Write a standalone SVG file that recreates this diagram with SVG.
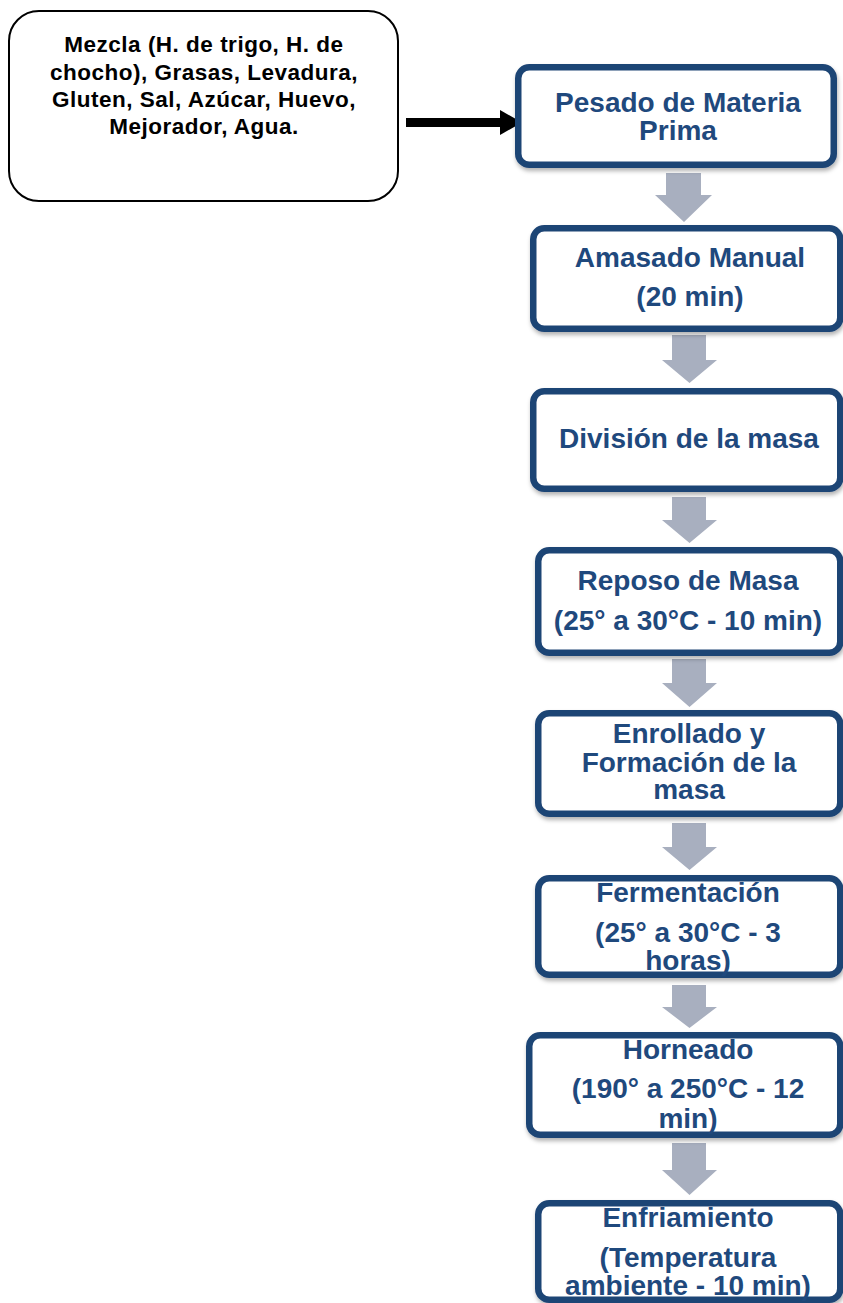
<svg xmlns="http://www.w3.org/2000/svg" width="843" height="1303" viewBox="0 0 843 1303">
<style>
.step{fill:#ffffff;stroke:#1F4575;stroke-width:6.5;filter:url(#sh)}
.st{font-family:"Liberation Sans",Arial,sans-serif;font-weight:bold;font-size:28px;fill:#1F497D;text-anchor:middle}
.in{font-family:"Liberation Sans",Arial,sans-serif;font-weight:bold;font-size:22.5px;fill:#000;text-anchor:middle;letter-spacing:0.5px}
.ga{fill:#A8AFBF}
</style>
<defs>
<filter id="sh" x="-10%" y="-10%" width="120%" height="130%">
<feDropShadow dx="1" dy="3" stdDeviation="2" flood-color="#000" flood-opacity="0.3"/>
</filter>
</defs>
<rect width="843" height="1303" fill="#fff"/>
<g id="input">
<rect x="9" y="11" width="389" height="190" rx="30" ry="30" fill="#fff" stroke="#000" stroke-width="2"/>
<text class="in"><tspan x="204" y="52">Mezcla (H. de trigo, H. de</tspan><tspan x="204" y="80">chocho), Grasas, Levadura,</tspan><tspan x="204" y="107">Gluten, Sal, Azúcar, Huevo,</tspan><tspan x="204" y="134">Mejorador, Agua.</tspan></text>
</g>
<g id="connectors">
<rect x="406" y="118" width="95" height="9" fill="#000"/>
<polygon points="500,110 522,122.5 500,135" fill="#000"/>
<polygon class="ga" points="666,173 701,173 701,195 712,195 684,222 655,195 666,195"/>
<polygon class="ga" points="672,335 706,335 706,360 717,360 689.5,383 662,360 672,360"/>
<polygon class="ga" points="672,497 706,497 706,520 717,520 689.5,543 662,520 672,520"/>
<polygon class="ga" points="672,659 706,659 706,683 717,683 689.5,707 662,683 672,683"/>
<polygon class="ga" points="672,823 706,823 706,847 717,847 689.5,870 662,847 672,847"/>
<polygon class="ga" points="672,985 706,985 706,1007 717,1007 689.5,1028 662,1007 672,1007"/>
<polygon class="ga" points="672,1143 706,1143 706,1170 717,1170 689.5,1195 662,1170 672,1170"/>
</g>
<g id="n1">
<rect class="step" x="518.25" y="67.25" width="315.5" height="97.5" rx="11"/>
<text class="st"><tspan x="678" y="112">Pesado de Materia</tspan><tspan x="678" y="140">Prima</tspan></text>
</g>
<g id="n2">
<rect class="step" x="533.25" y="228.25" width="307" height="100.5" rx="11"/>
<text class="st"><tspan x="690" y="267">Amasado Manual</tspan><tspan x="690" y="306">(20 min)</tspan></text>
</g>
<g id="n3">
<rect class="step" x="533.25" y="391.25" width="307" height="97.5" rx="11"/>
<text class="st" x="689" y="448">División de la masa</text>
</g>
<g id="n4">
<rect class="step" x="538.25" y="550.25" width="302" height="102.5" rx="11"/>
<text class="st"><tspan x="688" y="590">Reposo de Masa</tspan><tspan x="688" y="630">(25° a 30°C - 10 min)</tspan></text>
</g>
<g id="n5">
<rect class="step" x="538.25" y="713.25" width="302" height="100.5" rx="11"/>
<text class="st"><tspan x="689" y="743">Enrollado y</tspan><tspan x="689" y="772">Formación de la</tspan><tspan x="689" y="799">masa</tspan></text>
</g>
<g id="n6">
<rect class="step" x="538.25" y="878.25" width="302" height="96.5" rx="11"/>
<text class="st"><tspan x="688" y="902">Fermentación</tspan><tspan x="688" y="942">(25° a 30°C - 3</tspan><tspan x="688" y="970">horas)</tspan></text>
</g>
<g id="n7">
<rect class="step" x="529.25" y="1035.25" width="311" height="99.5" rx="11"/>
<text class="st"><tspan x="688" y="1059">Horneado</tspan><tspan x="688" y="1098">(190° a 250°C - 12</tspan><tspan x="688" y="1128">min)</tspan></text>
</g>
<g id="n8">
<rect class="step" x="538.25" y="1203.25" width="302" height="96.5" rx="11"/>
<text class="st"><tspan x="688" y="1227">Enfriamiento</tspan><tspan x="688" y="1267">(Temperatura</tspan><tspan x="688" y="1295">ambiente - 10 min)</tspan></text>
</g>
</svg>
